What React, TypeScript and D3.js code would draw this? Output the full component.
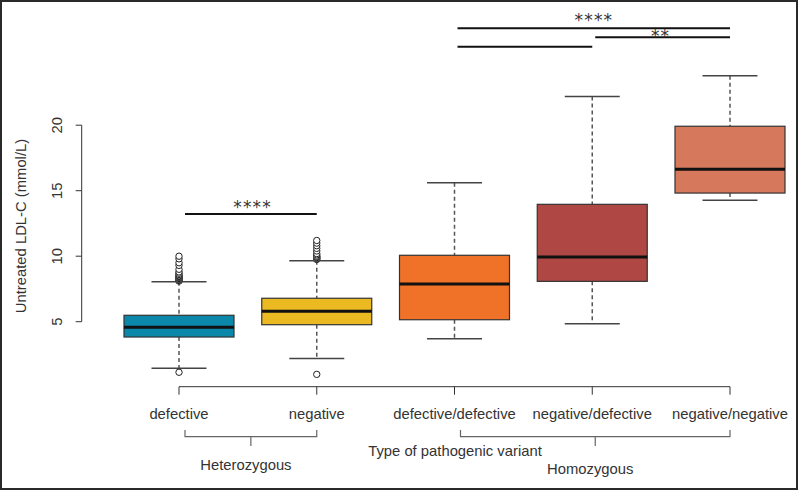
import React from "react";
import * as d3 from "d3";

const categories = ["defective", "negative", "defective/defective", "negative/defective", "negative/negative"];
const colors = ["#0B87AA", "#EBB921", "#EF7228", "#AF4845", "#D5785C"];
// [lowerWhisker, q1, median, q3, upperWhisker]
const stats = [
  [1.45, 3.83, 4.57, 5.49, 8.05],
  [2.2, 4.77, 5.79, 6.79, 9.66],
  [3.7, 5.15, 7.88, 10.07, 15.6],
  [4.85, 8.08, 9.94, 13.96, 22.2],
  [14.27, 14.82, 16.63, 19.92, 23.78],
];
const outliers = [
  [1.14, 8.1, 8.15, 8.2, 8.25, 8.3, 8.35, 8.4, 8.45, 8.5, 8.6, 8.7, 8.8, 9.0, 9.3, 9.5, 9.8, 10.0],
  [0.98, 9.75, 9.8, 9.85, 9.9, 9.95, 10.0, 10.1, 10.2, 10.4, 10.6, 10.8, 11.0, 11.2],
  [],
  [],
  [],
];
const yTicks = [5, 10, 15, 20];
const groups = [
  { label: "Heterozygous", from: 0, to: 1 },
  { label: "Homozygous", from: 2, to: 4 },
];
const sigBars = [
  { from: 0, to: 1, y: 13.22, label: "****", lx: 252, ly: 13.27 },
  { from: 2, to: 4, y: 27.4, label: "****", lx: 593.3, ly: 27.55 },
  { from: 3, to: 4, y: 26.71, label: "**", lx: 660, ly: 26.34 },
  { from: 2, to: 3, y: 25.99, label: "", lx: 0, ly: 0 },
];

const W = 800;
const H = 491;
const FONT = "'Liberation Sans', Arial, sans-serif";

export default function App() {
  const x = d3.scaleLinear().domain([0, 4]).range([179, 730]);
  const y = d3.scaleLinear().domain([5, 20]).range([321.7, 125.2]);
  const bw = 110;
  const axisX = 81.7;
  const axisY = 386.7;
  const txt = "#333";
  const fs = 14.8;
  const ls = 1.2;

  return (
    <svg width={W} height={H} style={{ position: "absolute", left: 0, top: 0, background: "#fff" }} fontFamily={FONT}>
      <rect x={1} y={1} width={796} height={488} fill="#fff" stroke="#2a2a2a" strokeWidth={2} />
      {/* y axis */}
      <line x1={axisX} x2={axisX} y1={y(20)} y2={y(5)} stroke="#333" strokeWidth={1} />
      {yTicks.map((t) => (
        <g key={t}>
          <line x1={axisX - 6} x2={axisX} y1={y(t)} y2={y(t)} stroke="#333" />
          <text
            transform={`translate(${61.5},${y(t)}) rotate(-90)`}
            textAnchor="middle"
            fontSize={fs}
            fill={txt}
          >
            {t}
          </text>
        </g>
      ))}
      <text transform={`translate(26,226) rotate(-90)`} textAnchor="middle" fontSize={fs} fill={txt}>
        Untreated LDL-C (mmol/L)
      </text>
      {/* x axis */}
      <line x1={x(0)} x2={x(4)} y1={axisY} y2={axisY} stroke="#333" />
      {categories.map((c, i) => (
        <g key={c}>
          <line x1={x(i)} x2={x(i)} y1={axisY} y2={axisY + 8} stroke="#333" />
          <text x={x(i)} y={419} textAnchor="middle" fontSize={fs} fill={txt}>
            {c}
          </text>
        </g>
      ))}
      <text x={455} y={456} textAnchor="middle" fontSize={fs} fill={txt}>
        Type of pathogenic variant
      </text>
      {groups.map((g) => {
        const x0 = x(g.from) + 6;
        const x1 = x(g.to);
        const mid = (x0 + x1) / 2;
        return (
          <g key={g.label}>
            <path
              d={`M${x0},430 L${x0},436.7 L${x1},436.7 L${x1},430 M${mid},436.7 L${mid},446`}
              fill="none"
              stroke="#666"
              strokeWidth={1.2}
            />
            <text x={mid - 5} y={470 + (g.from === 0 ? 0 : 4)} textAnchor="middle" fontSize={fs} fill={txt}>
              {g.label}
            </text>
          </g>
        );
      })}
      {/* boxes */}
      {stats.map((s, i) => {
        const cx = x(i);
        const [lo, q1, med, q3, hi] = s;
        return (
          <g key={i}>
            <line x1={cx} x2={cx} y1={y(hi)} y2={y(q3)} stroke="#555" strokeWidth={1.5} strokeDasharray="4,3" />
            <line x1={cx} x2={cx} y1={y(q1)} y2={y(lo)} stroke="#555" strokeWidth={1.5} strokeDasharray="4,3" />
            <line x1={cx - bw / 4} x2={cx + bw / 4} y1={y(hi)} y2={y(hi)} stroke="#444" strokeWidth={1.5} />
            <line x1={cx - bw / 4} x2={cx + bw / 4} y1={y(lo)} y2={y(lo)} stroke="#444" strokeWidth={1.5} />
            <rect x={cx - bw / 2} y={y(q3)} width={bw} height={y(q1) - y(q3)} fill={colors[i]} stroke="#333" strokeWidth={1.2} />
            <line x1={cx - bw / 2} x2={cx + bw / 2} y1={y(med)} y2={y(med)} stroke="#111" strokeWidth={3} />
            {outliers[i].map((o, k) => (
              <circle key={k} cx={cx} cy={y(o)} r={3.2} fill="#fff" stroke="#222" strokeWidth={1} />
            ))}
          </g>
        );
      })}
      {/* significance */}
      {sigBars.map((b, k) => {
        const x0 = b.from === 0 ? x(b.from) + 6 : x(b.from) + 3;
        const x1 = x(b.to);
        const yy = y(b.y);
        return (
          <g key={k}>
            <line x1={x0} x2={x1} y1={yy} y2={yy} stroke="#111" strokeWidth={2} />
            {b.label && (
              <text
                x={b.lx + ls / 2}
                y={y(b.ly)}
                textAnchor="middle"
                fontSize={17}
                fontFamily="'DejaVu Sans', sans-serif"
                letterSpacing={ls}
                fill="#333"
              >
                {b.label}
              </text>
            )}
          </g>
        );
      })}
    </svg>
  );
}
